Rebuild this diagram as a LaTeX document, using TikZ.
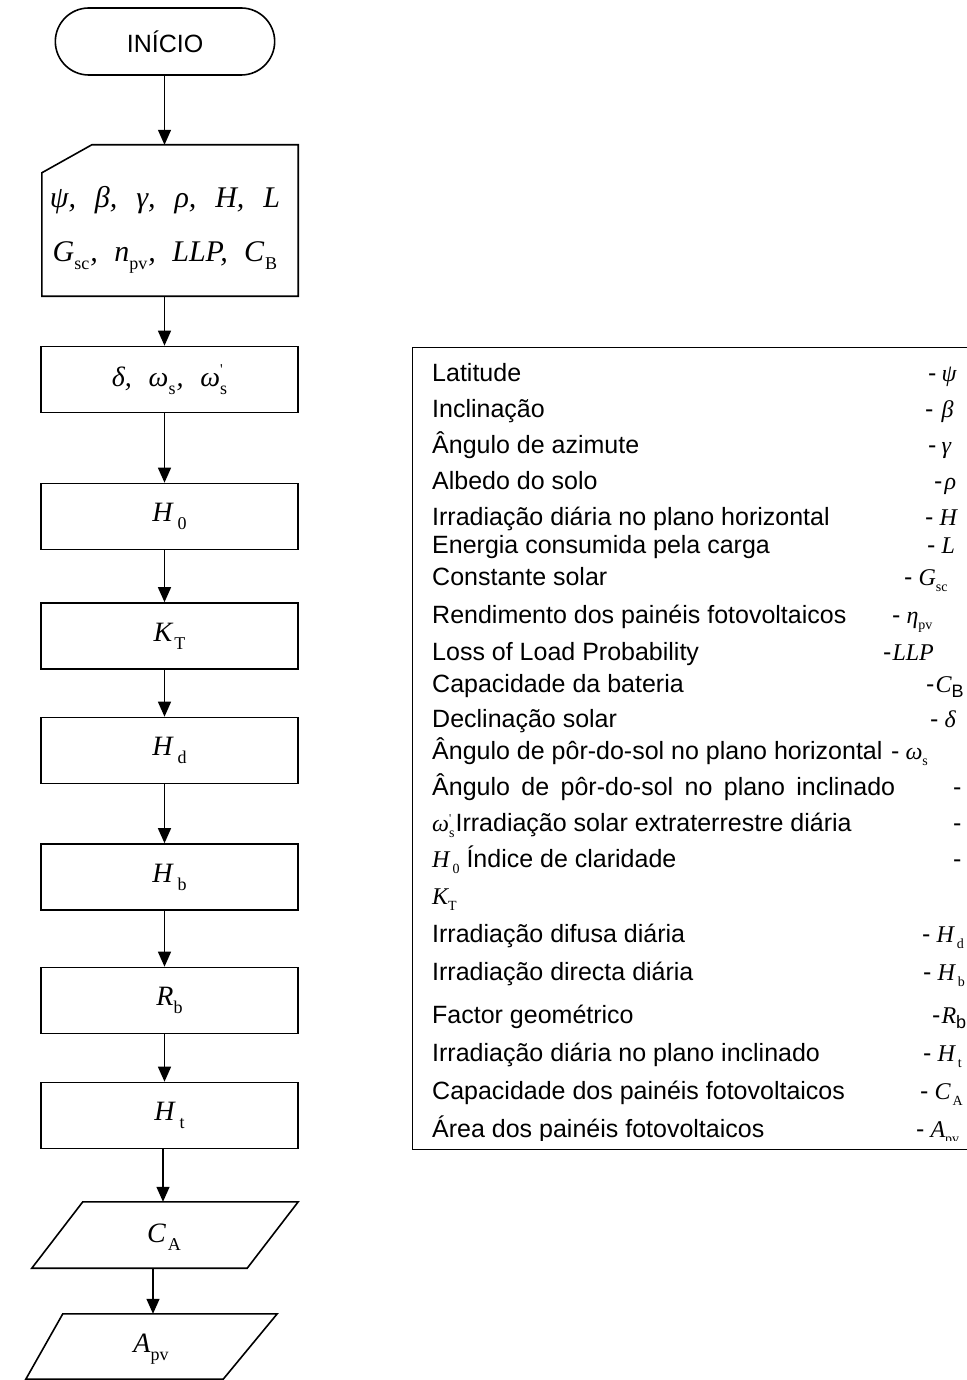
\documentclass[tikz,border=0pt]{standalone}
\usepackage{fontspec}
\setmainfont{Liberation Sans}
\newfontfamily\tms{Liberation Serif}
\usetikzlibrary{shapes.misc,arrows.meta,calc}
\newcommand\bsb[1]{\raisebox{-8pt}{\fontsize{18}{18}\selectfont\tms\upshape #1}}
\newcommand\lsb[1]{\raisebox{-6pt}{\fontsize{14}{14}\selectfont\tms\upshape #1}}
\newcommand\bpr{\rlap{\raisebox{12pt}{\fontsize{15}{15}\selectfont\tms\upshape\textquotesingle}}}
\newcommand\lpr{\rlap{\raisebox{9pt}{\fontsize{12}{12}\selectfont\tms\upshape\textquotesingle}}}
\newcommand\ds{{\fontsize{25}{25}\selectfont\normalfont -}}
\tikzset{
  ln/.style={line width=1.6pt},
  box/.style={draw, ln, minimum width=257pt, minimum height=66pt, inner sep=0pt,
    font=\fontsize{28}{28}\selectfont\tms\itshape},
  ghost/.style={inner sep=0pt},
  arr/.style={line width=1.3pt, -{Triangle[width=13pt,length=15pt]}},
  btxt/.style={inner sep=0pt, font=\fontsize{28}{28}\selectfont\tms\itshape},
  ltxt/.style={anchor=base west, inner sep=0pt, font=\fontsize{25}{25}\selectfont},
  lsym/.style={anchor=base west, inner sep=0pt, font=\fontsize{24}{24}\selectfont\tms\itshape}
}
\begin{document}
\begin{tikzpicture}[x=1pt,y=-1pt]
\useasboundingbox (0,0) rectangle (966,1380);
% start
\node[draw, ln, rounded rectangle, minimum width=226pt, minimum height=67pt,
  font=\fontsize{25}{25}\selectfont] (start) at (165,41.5) {INÍCIO};
% input
\node[ghost, minimum width=256pt, minimum height=151pt] (inp) at (170,220.5) {};
\draw[ln] ($(inp.north west)+(0,28)$) -- ($(inp.north west)+(50,0)$) -- (inp.north east)
  -- (inp.south east) -- (inp.south west) -- cycle;
\node[btxt, font=\fontsize{30}{30}\selectfont\tms\itshape] (inl1) at (165,200) {ψ,\hspace{0.38em} β,\hspace{0.38em} γ,\hspace{0.38em} ρ,\hspace{0.38em} H,\hspace{0.38em} L};
\node[btxt, font=\fontsize{30}{30}\selectfont\tms\itshape] (inl2) at (165,257) {G\bsb{sc}\hspace{1pt},\hspace{0.3em} n\bsb{pv}\hspace{1pt},\hspace{0.3em} LLP,\hspace{0.3em} C\hspace{1pt}\bsb{B}};
% process boxes
\node[box] (dl) at (169.5,379.5) {δ,\hspace{0.35em} ω\bsb{s}\hspace{1pt},\hspace{0.35em} ω\bpr\bsb{s}};
\node[box] (h0) at (169.5,516.5) {H\hspace{5pt}\bsb{0}};
\node[box] (kt) at (169.5,636) {K\hspace{2pt}\bsb{T}};
\node[box] (hd) at (169.5,750.5) {H\hspace{5pt}\bsb{d}};
\node[box] (hb) at (169.5,877) {H\hspace{5pt}\bsb{b}};
\node[box] (rb) at (169.5,1000.5) {R\bsb{b}};
\node[box] (ht) at (169.5,1115.5) {H\hspace{5pt}\bsb{t}};
% outputs
\node[ghost, minimum width=266pt, minimum height=66pt] (ca) at (165,1235) {};
\draw[ln] (ca.south west) -- ($(ca.north west)+(51,0)$) -- (ca.north east)
  -- ($(ca.south east)-(51,0)$) -- cycle;
\node[btxt] (catx) at (164,1237) {C\hspace{2pt}\bsb{A}};
\node[ghost, minimum width=251pt, minimum height=65pt] (apv) at (151.5,1346.5) {};
\draw[ln] ($(apv.north west)+(37,0)$) -- (apv.north east) -- ($(apv.south east)-(54,0)$)
  -- (apv.south west) -- cycle;
\node[btxt] (apvtx) at (151,1349) {A\bsb{pv}};
% connectors
\coordinate (ax) at (164.5,0);
\coordinate (cx) at (163,0);
\coordinate (bx) at (153,0);
\draw[arr] (start.south -| ax) -- (inp.north -| ax);
\draw[arr] (inp.south -| ax) -- (dl.north -| ax);
\draw[arr] (dl.south -| ax) -- (h0.north -| ax);
\draw[arr] (h0.south -| ax) -- (kt.north -| ax);
\draw[arr] (kt.south -| ax) -- (hd.north -| ax);
\draw[arr] (hd.south -| ax) -- (hb.north -| ax);
\draw[arr] (hb.south -| ax) -- (rb.north -| ax);
\draw[arr] (rb.south -| ax) -- (ht.north -| ax);
\draw[arr] (ht.south -| cx) -- (ca.north -| cx);
\draw[arr] (ca.south -| bx) -- (apv.north -| bx);
% legend
\node[draw, line width=1.4pt, minimum width=580pt, minimum height=802pt, anchor=north west,
  inner sep=0pt] (leg) at (412,347) {};
\begin{scope}
\clip (413,348) rectangle (966,1140);
\node[ltxt] (t1) at (432,381) {Latitude};
\node[lsym] (s1) at (928,381) {\ds\hspace{5pt}ψ};
\node[ltxt] (t2) at (432,417) {Inclinação};
\node[lsym] (s2) at (925,417) {\ds\hspace{8pt}β};
\node[ltxt] (t3) at (432,453) {Ângulo de azimute};
\node[lsym] (s3) at (928,453) {\ds\hspace{5pt}γ};
\node[ltxt] (t4) at (432,489) {Albedo do solo};
\node[lsym] (s4) at (934,489) {\ds\hspace{2pt}ρ};
\node[ltxt] (t5) at (432,525) {Irradiação diária no plano horizontal};
\node[lsym] (s5) at (925,525) {\ds\hspace{6pt}H};
\node[ltxt] (t6) at (432,553) {Energia consumida pela carga};
\node[lsym] (s6) at (927,553) {\ds\hspace{6pt}L};
\node[ltxt] (t7) at (432,585) {Constante solar};
\node[lsym] (s7) at (904,585) {\ds\hspace{6pt}G\lsb{sc}};
\node[ltxt] (t8) at (432,623) {Rendimento dos painéis fotovoltaicos};
\node[lsym] (s8) at (892,623) {\ds\hspace{6pt}η\lsb{pv}};
\node[ltxt] (t9) at (432,660) {Loss of Load Probability};
\node[lsym] (s9) at (883,660) {\ds\hspace{1pt}LLP};
\node[ltxt] (t10) at (432,692) {Capacidade da bateria};
\node[lsym] (s10) at (926,692) {\ds\hspace{1pt}C\raisebox{-5pt}{\fontsize{18}{18}\selectfont\normalfont B}};
\node[ltxt] (t11) at (432,727) {Declinação solar};
\node[lsym] (s11) at (930,727) {\ds\hspace{6pt}δ};
\node[ltxt] (t12) at (432,759) {Ângulo de pôr-do-sol no plano horizontal};
\node[lsym] (s12) at (891,759) {\ds\hspace{6pt}ω\lsb{s}};
\node[ltxt] (t13) at (432,795) {\makebox[463pt][s]{Ângulo de pôr-do-sol no plano inclinado}};
\node[ltxt] (s13) at (953,795) {-};
\node[ltxt] (t14) at (432,831) {{\fontsize{24}{24}\selectfont\tms\itshape ω\lpr\lsb{s}}\hspace{1pt}Irradiação solar extraterrestre diária};
\node[ltxt] (s14) at (953,831) {-};
\node[ltxt] (t15) at (432,867) {{\fontsize{24}{24}\selectfont\tms\itshape H\hspace{3pt}\lsb{0}}\hspace{7pt}Índice de claridade};
\node[ltxt] (s15) at (953,867) {-};
\node[lsym] (t16) at (432,904) {K\lsb{T}};
\node[ltxt] (t17) at (432,942) {Irradiação difusa diária};
\node[lsym] (s17) at (922,942) {\ds\hspace{6pt}H\hspace{3pt}\lsb{d}};
\node[ltxt] (t18) at (432,980) {Irradiação directa diária};
\node[lsym] (s18) at (923,980) {\ds\hspace{6pt}H\hspace{3pt}\lsb{b}};
\node[ltxt] (t19) at (432,1023) {Factor geométrico};
\node[lsym] (s19) at (932,1023) {\ds\hspace{1pt}R\raisebox{-5pt}{\fontsize{18}{18}\selectfont\normalfont b}};
\node[ltxt] (t20) at (432,1061) {Irradiação diária no plano inclinado};
\node[lsym] (s20) at (923,1061) {\ds\hspace{6pt}H\hspace{3pt}\lsb{t}};
\node[ltxt] (t21) at (432,1099) {Capacidade dos painéis fotovoltaicos};
\node[lsym] (s21) at (920,1099) {\ds\hspace{6pt}C\hspace{2pt}\lsb{A}};
\node[ltxt] (t22) at (432,1137) {Área dos painéis fotovoltaicos};
\node[lsym] (s22) at (916,1137) {\ds\hspace{6pt}A\lsb{pv}};
\end{scope}
\end{tikzpicture}
\end{document}
